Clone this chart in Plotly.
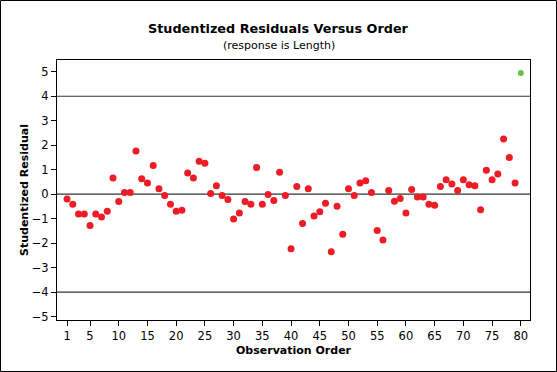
import plotly.graph_objects as go

order = list(range(1, 81))
residuals = [
    -0.20, -0.41, -0.81, -0.81, -1.28, -0.81, -0.93, -0.70, 0.66, -0.30,
    0.07, 0.07, 1.76, 0.63, 0.46, 1.17, 0.22, -0.05, -0.41, -0.70,
    -0.66, 0.86, 0.66, 1.34, 1.26, 0.03, 0.34, -0.05, -0.22, -1.01,
    -0.77, -0.30, -0.41, 1.09, -0.41, -0.01, -0.26, 0.89, -0.05, -2.23,
    0.31, -1.20, 0.22, -0.89, -0.72, -0.37, -2.35, -0.49, -1.64, 0.22,
    -0.05, 0.46, 0.55, 0.07, -1.48, -1.87, 0.15, -0.29, -0.18, -0.77,
    0.19, -0.12, -0.12, -0.41, -0.45, 0.31, 0.59, 0.42, 0.15, 0.59,
    0.38, 0.34, -0.64, 0.98, 0.59, 0.82, 2.25, 1.50, 0.46, 4.95,
]
x_ticks = [1, 5, 10, 15, 20, 25, 30, 35, 40, 45, 50, 55, 60, 65, 70, 75, 80]
y_ticks = [-5, -4, -3, -2, -1, 0, 1, 2, 3, 4, 5]
ref_lines = [-4, 0, 4]
highlight = [80]

normal_x = [o for o in order if o not in highlight]
normal_y = [r for o, r in zip(order, residuals) if o not in highlight]
hi_x = [o for o in order if o in highlight]
hi_y = [r for o, r in zip(order, residuals) if o in highlight]

W, H = 557, 372
L, R, T, B = 57, 27, 60, 52
pw, ph = W - L - R, H - T - B

fig = go.Figure()
fig.add_trace(go.Scatter(x=normal_x, y=normal_y, mode="markers",
                         marker=dict(color="#EE1C25", size=7, line=dict(width=0)),
                         showlegend=False))
fig.add_trace(go.Scatter(x=hi_x, y=hi_y, mode="markers",
                         marker=dict(color="#62C146", size=6, line=dict(width=0)),
                         showlegend=False))

for v in ref_lines:
    fig.add_shape(type="line", xref="paper", yref="y", x0=0, x1=1, y0=v, y1=v,
                  line=dict(color="#333333", width=1.2), layer="below")

# outer figure border
fig.add_shape(type="rect", xref="paper", yref="paper",
              x0=-(L - 0.5) / pw, x1=1 + (R - 0.5) / pw,
              y0=-(B - 0.5) / ph, y1=1 + (T - 0.5) / ph,
              line=dict(color="black", width=1))

font_family = "DejaVu Sans"
fig.update_layout(
    width=W, height=H,
    margin=dict(l=L, r=R, t=T, b=B),
    paper_bgcolor="white", plot_bgcolor="white",
    font=dict(family=font_family, size=11, color="black"),
    xaxis=dict(range=[-0.75, 81.6], tickvals=x_ticks, ticks="outside", ticklen=5,
               tickcolor="black", showline=True, linecolor="black", linewidth=1,
               mirror=True, showgrid=False, zeroline=False,
               tickfont=dict(size=11.5)),
    yaxis=dict(range=[-5.14, 5.48], tickvals=y_ticks, ticks="outside", ticklen=5,
               tickcolor="black", showline=True, linecolor="black", linewidth=1,
               mirror=True, showgrid=False, zeroline=False,
               tickfont=dict(size=11.5)),
    annotations=[
        dict(text="<b>Studentized Residuals Versus Order</b>", xref="paper", yref="paper",
             x=(278 - L) / pw, y=1 + (T - 28) / ph, xanchor="center", yanchor="middle",
             showarrow=False, font=dict(size=12.8)),
        dict(text="(response is Length)", xref="paper", yref="paper",
             x=(279 - L) / pw, y=1 + (T - 45) / ph, xanchor="center", yanchor="middle",
             showarrow=False, font=dict(size=11)),
        dict(text="<b>Observation Order</b>", xref="paper", yref="paper",
             x=(294 - L) / pw, y=-(350 - (H - B)) / ph, xanchor="center", yanchor="middle",
             showarrow=False, font=dict(size=11)),
        dict(text="<b>Studentized Residual</b>", xref="paper", yref="paper",
             x=-(L - 24) / pw, y=(H - B - 190) / ph, xanchor="center", yanchor="middle",
             textangle=-90, showarrow=False, font=dict(size=11)),
    ],
)

fig.write_html("out.html", config={"displayModeBar": False},
               post_script="document.body.style.margin='0';document.body.style.padding='0';")
